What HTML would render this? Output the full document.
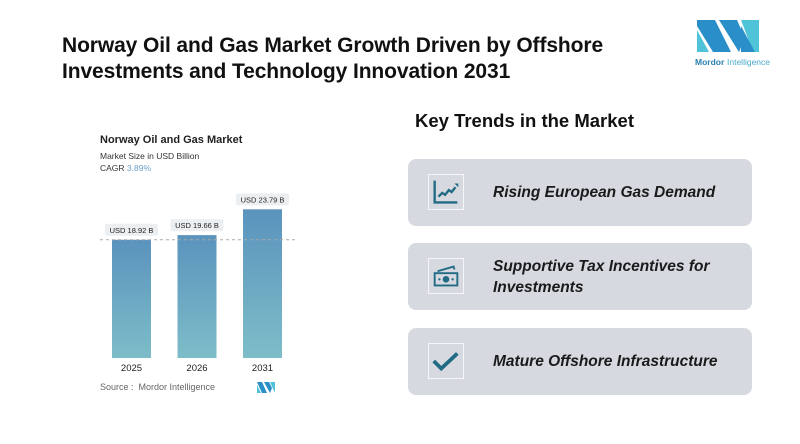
<!DOCTYPE html>
<html><head><meta charset="utf-8"><style>
body{margin:0;width:800px;height:444px;background:#fff;font-family:"Liberation Sans",sans-serif;position:relative;overflow:hidden}
.abs{position:absolute}
h1{position:absolute;left:62px;top:33px;margin:0;font-size:21px;line-height:26px;font-weight:bold;color:#111;letter-spacing:-0.1px}
.card{position:absolute;left:408px;width:344px;height:67px;background:#d6dae0;border-radius:8px}
.icon{position:absolute;left:20px;top:15px;width:36px;height:36px;border:1px solid #f4f6f8;box-sizing:border-box}
.ct{position:absolute;left:85px;font-size:15.5px;font-weight:bold;font-style:italic;color:#1a1a1a;line-height:21px}
</style></head><body>
<h1>Norway Oil and Gas Market Growth Driven by Offshore<br>Investments and Technology Innovation 2031</h1>
<svg class="abs" style="left:695px;top:18px" width="80" height="54">
<polygon points="2,2 20,2 36,34 36,34 18,34 2,8" fill="#2a8fc8"/><polygon points="2,12 14,34 2,34" fill="#4fc3d8"/>
<polygon points="24,2 42,2 50,20 44,34" fill="#2a8fc8"/><polygon points="46,2 64,2 64,34 58,34" fill="#4fc3d8"/><polygon points="46,8 60,34 46,34" fill="#2a8fc8"/>
<text x="0" y="47" font-size="8.5" fill="#2a7fb0" font-family="Liberation Sans" font-weight="bold">Mordor</text><text x="32" y="47" font-size="8.5" fill="#4aa8c8" font-family="Liberation Sans">Intelligence</text>
</svg>
<div class="abs" style="left:100px;top:134px;font-size:11px;font-weight:bold;color:#222">Norway Oil and Gas Market</div>
<div class="abs" style="left:100px;top:151px;font-size:8.5px;color:#333">Market Size in USD Billion</div>
<div class="abs" style="left:100px;top:163px;font-size:8.5px;color:#333">CAGR <span style="color:#6a9fc8">3.89%</span></div>
<svg id="chart" class="abs" style="left:0;top:0" width="400" height="444">
<defs><linearGradient id="g" x1="0" y1="0" x2="0" y2="1"><stop offset="0" stop-color="#5a93bd"/><stop offset="1" stop-color="#7dbdc8"/></linearGradient></defs>
</svg>
<div class="abs" style="left:100px;top:382px;font-size:9px;color:#666">Source :&nbsp; Mordor Intelligence</div>
<svg class="abs" style="left:257px;top:382px" width="18" height="11"><polygon points="0,0 5,0 10,11 5,11" fill="#2a8fc8"/><polygon points="7,0 12,0 15,6 13,11" fill="#2a8fc8"/><polygon points="13,0 18,0 18,11" fill="#4fc3d8"/><polygon points="0,3 4,11 0,11" fill="#4fc3d8"/></svg>
<div class="abs" style="left:415px;top:110px;font-size:18.5px;font-weight:bold;color:#111">Key Trends in the Market</div>
<div class="card" style="top:159px">
<svg class="icon" viewBox="0 0 36 36"><path d="M6,6V29H30" stroke="#226b85" stroke-width="2.5" fill="none"/><path d="M10,23l4-4 3,2 4-5 3,2 4-5" stroke="#226b85" stroke-width="2.5" fill="none"/><path d="M27,9h4v4z" fill="#226b85"/></svg>
<div class="ct" style="top:23px">Rising European Gas Demand</div></div>
<div class="card" style="top:243px">
<svg class="icon" viewBox="0 0 36 36"><path d="M9,13L26,8 27,11" stroke="#226b85" stroke-width="2" fill="none"/><rect x="5" y="14" width="26" height="15" fill="#226b85"/><rect x="7" y="16" width="22" height="11" fill="#d6dae0"/><circle cx="18" cy="21.5" r="3.5" fill="#226b85"/><circle cx="11" cy="21.5" r="1.2" fill="#226b85"/><circle cx="25" cy="21.5" r="1.2" fill="#226b85"/></svg>
<div class="ct" style="top:13px">Supportive Tax Incentives for<br>Investments</div></div>
<div class="card" style="top:328px">
<svg class="icon" viewBox="0 0 36 36"><path d="M5,18l8,8 17-16" stroke="#226b85" stroke-width="4" fill="none"/></svg>
<div class="ct" style="top:23px">Mature Offshore Infrastructure</div></div>
<script>
const categories=["2025","2026","2031"];
const values=[18.92,19.66,23.79];
const labels=["USD 18.92 B","USD 19.66 B","USD 23.79 B"];
const svg=document.getElementById('chart');
const NS="http://www.w3.org/2000/svg";
const base=358, scale=6.25;
const y=v=>base-v*scale;
const x=i=>112+i*65.5;
function mk(t,a){const e=document.createElementNS(NS,t);for(const k in a)e.setAttribute(k,a[k]);svg.appendChild(e);return e;}
categories.forEach((c,i)=>{
 const r=mk('rect',{x:x(i),y:y(values[i]),width:39,height:values[i]*scale,fill:'url(#g)'});
 
 
 const p=mk('rect',{x:x(i)-7,y:y(values[i])-16,width:53,height:12,rx:2,fill:'#eceff2'});
 
 
 const t=mk('text',{x:x(i)+19.5,y:y(values[i])-7,'text-anchor':'middle','font-size':'7.5','fill':'#222','font-family':'Liberation Sans'});
 t.textContent=labels[i];
 
 
 const yl=mk('text',{x:x(i)+19.5,y:371,'text-anchor':'middle','font-size':'9.5','fill':'#222','font-family':'Liberation Sans'});
 yl.textContent=c;
 
 
});
const d=mk('line',{x1:100,x2:296,y1:y(values[0]),y2:y(values[0]),stroke:'#aaa','stroke-dasharray':'3,3','stroke-width':1});


</script>
</body></html>
